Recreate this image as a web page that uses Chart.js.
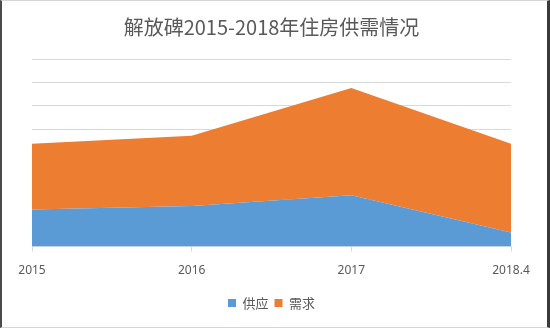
<!DOCTYPE html>
<html>
<head>
<meta charset="utf-8">
<script src="https://cdn.jsdelivr.net/npm/chart.js@4"></script>
<style>
  html, body { margin: 0; padding: 0; background: #fff; }
  .wrap { position: relative; width: 550px; height: 328px; }
  .frame {
    position: absolute; left: 0; top: 0; width: 550px; height: 328px; box-sizing: border-box;
    border-left: 2px solid #4a4a4a; border-right: 3px solid #3a3a3a;
    border-top: 1px solid #d6d6d6; border-bottom: 1px solid #d6d6d6;
    pointer-events: none;
  }
</style>
</head>
<body>
<div class="wrap">
  <canvas id="chart" width="550" height="328"></canvas>
  <div class="frame"></div>
</div>
<script>
// values (grid step = 100)
const years = ['2015', '2016', '2017', '2018.4']
const supply = [158, 173, 219, 60]
const demand = [280, 300, 457, 378]

const grey = '#595959'
const gridCol = '#d9d9d9'
const cjk = "'Noto Sans CJK SC', 'Noto Sans', sans-serif"

new Chart(document.getElementById('chart'), {
  type: 'line',
  data: {
    labels: years,
    datasets: [
      { label: '供应', data: supply, backgroundColor: '#5B9BD5', borderColor: '#5B9BD5', borderWidth: 0, pointRadius: 0, fill: 'origin', tension: 0 },
      { label: '需求', data: demand, backgroundColor: '#ED7D31', borderColor: '#ED7D31', borderWidth: 0, pointRadius: 0, fill: '-1', tension: 0 },
    ],
  },
  options: {
    responsive: false,
    animation: false,
    layout: { padding: { left: 32, right: 39, top: 0, bottom: 8.5 } },
    plugins: {
      title: {
        display: true,
        text: '解放碑2015-2018年住房供需情况',
        color: grey,
        font: { family: cjk, size: 20, weight: 'normal' },
        padding: { top: 15, bottom: 20 },
      },
      legend: {
        position: 'bottom',
        labels: {
          color: grey,
          font: { family: cjk, size: 13 },
          usePointStyle: true,
          pointStyle: 'rect',
          boxWidth: 8,
          boxHeight: 8,
          padding: 6,
        },
      },
      tooltip: { enabled: false },
    },
    scales: {
      x: {
        offset: false,
        grid: { drawOnChartArea: false, drawTicks: true, tickLength: 5, color: gridCol },
        border: { color: gridCol },
        ticks: { color: grey, font: { family: "'Noto Sans', sans-serif", size: 12 }, padding: 11.5, maxRotation: 0 },
        afterFit: s => { s.height = 44 },
      },
      y: {
        stacked: true,
        min: 0,
        max: 800,
        ticks: { display: false, stepSize: 100 },
        grid: { color: gridCol, drawTicks: false },
        border: { display: false },
        afterFit: s => { s.width = 0 },
      },
    },
  },
})
</script>
</body>
</html>
